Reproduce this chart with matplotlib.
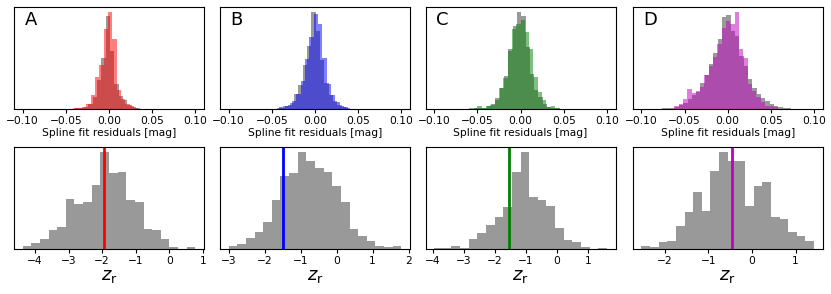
import matplotlib
matplotlib.use('Agg')
import matplotlib.pyplot as plt
from matplotlib.ticker import MultipleLocator
import numpy as np

# ---- top row: spline fit residual histograms (relative heights) ----
bin_w = 0.005

gray_start_A = -0.04885
gray_A = [0.5, 0.5, 1, 1.5, 2.5, 5, 12, 30, 53, 95.5, 60, 26, 13, 9, 4, 2, 1, 0.5]
col_start_A = -0.04615
col_A = [0.5, 1, 1.5, 2.5, 5, 14, 33, 45, 82, 100, 72, 20, 10, 5, 3, 1.5, 0.5]

gray_start_B = -0.0542
gray_B = [0.5, 0.5, 1, 1.5, 3, 6, 15, 25, 45, 65, 100, 80, 50, 27, 14, 8, 4, 2, 1, 0.5, 0.5]
col_start_B = -0.0465
col_B = [0.5, 2, 3.4, 4.4, 8, 15, 29, 51.5, 74, 98, 88, 53, 26, 14, 7, 3.5, 1.7, 0.5]

gray_start_C = -0.0642
gray_C = [0.5, 0.5, 1, 1, 1.5, 3, 5, 11, 22, 34, 62, 85, 100, 96, 64, 36, 20, 12, 5, 2, 1, 1, 0.5, 0.5]
col_start_C = -0.06
col_C = [0.7, 1.4, 3.4, 1.4, 2.7, 4.5, 9, 22, 32, 60, 82, 88, 92, 79, 62, 33, 17.5, 9, 2, 3.4, 1.4]

gray_start_D = -0.0815
gray_D = [0.5, 0.7, 1, 1.5, 2.5, 4, 6, 10, 14, 18, 27, 35, 46, 58, 72, 95, 97, 80, 75, 55,
          44, 31, 22, 15, 11, 8, 5, 3.5, 2, 1.5, 1, 0.5]
col_start_D = -0.0669
col_D = [0.5, 2.7, 5, 10, 21, 16.5, 18.5, 23, 35, 44, 54, 67, 83, 91, 88, 100, 62, 52, 26,
         19, 12, 7, 3.4, 3.4, 2]

# ---- bottom row: z_r histograms (20 bins each) ----
zr_range_A = (-4.37, 0.78)
zr_A = [9, 17, 30, 57, 67, 149, 134, 142, 192, 292, 227, 230, 147, 142, 59, 57, 30, 7, 0, 7]
zr_range_B = (-3.0, 1.80)
zr_B = [9, 14, 32, 50, 82, 146, 219, 229, 292, 263, 244, 230, 188, 141, 60, 40, 24, 9, 6, 9]
zr_range_C = (-3.95, 1.60)
zr_C = [2, 2, 9, 2, 31, 47, 72, 95, 127, 232, 292, 157, 147, 130, 62, 27, 21, 6, 0, 3]
zr_range_D = (-2.53, 1.42)
zr_D = [9, 5, 20, 24, 69, 112, 172, 114, 235, 292, 265, 263, 129, 189, 202, 97, 90, 50, 39, 24]

zr_line = [-1.93, -1.49, -1.54, -0.456]

letters = ['A', 'B', 'C', 'D']
colors = ['r', 'b', 'g', 'm']

tops = [(gray_start_A, gray_A, col_start_A, col_A),
        (gray_start_B, gray_B, col_start_B, col_B),
        (gray_start_C, gray_C, col_start_C, col_C),
        (gray_start_D, gray_D, col_start_D, col_D)]
bottoms = [(zr_range_A, zr_A), (zr_range_B, zr_B), (zr_range_C, zr_C), (zr_range_D, zr_D)]


def hist_from_counts(ax, start, counts, width, **kw):
    edges = start + width * np.arange(len(counts) + 1)
    centers = 0.5 * (edges[:-1] + edges[1:])
    ax.hist(centers, bins=edges, weights=counts, **kw)


fig = plt.figure(figsize=(8.31, 2.94), dpi=100)
W, H = 831, 294
lefts = [14, 220, 425.5, 632.7]
width = 190

for i in range(4):
    # top panel
    ax = fig.add_axes([lefts[i] / W, 1 - 109 / H, width / W, 102 / H])
    gs, gc, cs, cc = tops[i]
    hist_from_counts(ax, gs, gc, bin_w, color='gray', alpha=0.8)
    hist_from_counts(ax, cs, cc, bin_w, color=colors[i], alpha=0.5)
    ax.set_xlim(-0.11, 0.11)
    ax.set_xticks([-0.1, -0.05, 0, 0.05, 0.1])
    ax.set_yticks([])
    ax.tick_params(labelsize=7.7, length=3, pad=2)
    ax.set_xlabel('Spline fit residuals [mag]', fontsize=7.7, labelpad=1.5)
    ax.text(0.055, 0.82, letters[i], transform=ax.transAxes, fontsize=13)

    # bottom panel
    ax2 = fig.add_axes([lefts[i] / W, 1 - 249 / H, width / W, 102.3 / H])
    (lo, hi), counts = bottoms[i]
    w = (hi - lo) / len(counts)
    hist_from_counts(ax2, lo, counts, w, color='gray', alpha=0.8)
    ax2.axvline(zr_line[i], color=colors[i], lw=2)
    ax2.xaxis.set_major_locator(MultipleLocator(1))
    ax2.set_yticks([])
    ax2.tick_params(labelsize=7.7, length=3, pad=2)
    ax2.set_xlabel(r'$z_\mathrm{r}$', fontsize=13, labelpad=1)

fig.savefig('out.png', dpi=100)
